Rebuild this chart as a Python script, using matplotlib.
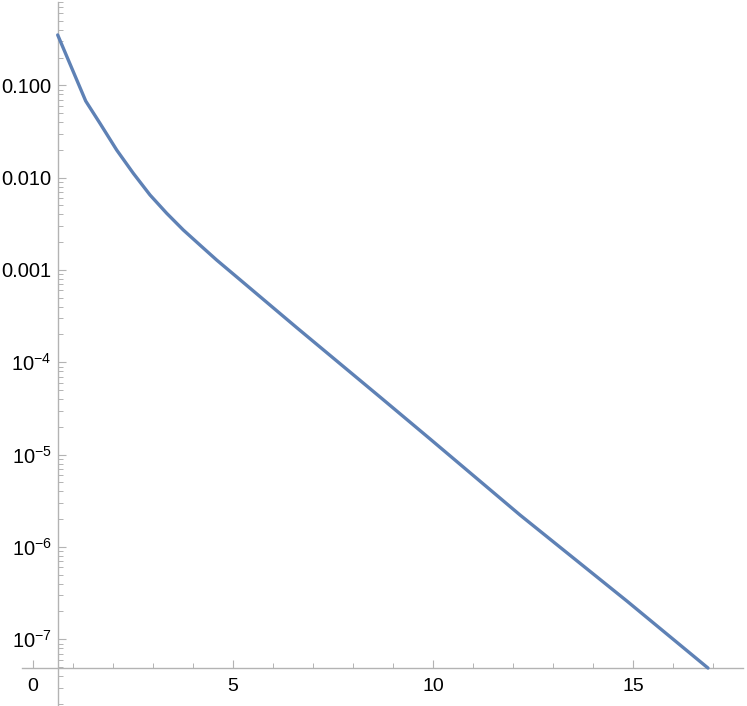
import matplotlib
matplotlib.use("Agg")
import matplotlib.pyplot as plt
import numpy as np
from matplotlib.ticker import FixedLocator, FixedFormatter, LogLocator, NullFormatter

plt.rcParams['font.family'] = ['Liberation Sans', 'DejaVu Sans']
plt.rcParams['mathtext.fontset'] = 'custom'
plt.rcParams['mathtext.rm'] = 'Liberation Sans'
plt.rcParams['mathtext.it'] = 'Liberation Sans:italic'

# data
x_vals = [0.6175, 1.3175, 1.675, 2.0925, 2.5075, 2.925, 3.3425, 3.7575, 4.175, 4.5925,
          5.1325, 6.6, 8.675, 9.925, 12.175, 14.85, 16.875]
y_vals = [0.351, 0.0676, 0.0387, 0.0199, 0.01114, 0.00649, 0.00411, 0.00271, 0.00186,
          0.00128, 8.13e-4, 2.36e-4, 4.21e-5, 1.48e-5, 2.22e-6, 2.59e-7, 4.88e-8]

x_ticks = [0, 5, 10, 15]
x_tick_labels = ["0", "5", "10", "15"]
y_ticks = [1e-1, 1e-2, 1e-3, 1e-4, 1e-5, 1e-6, 1e-7]
y_tick_labels = ["0.100", "0.010", "0.001", r"$10^{-4}$", r"$10^{-5}$", r"$10^{-6}$", r"$10^{-7}$"]

axis_x0 = 0.625      # where the vertical axis crosses
axis_y0 = 4.85e-8    # where the horizontal axis crosses

fig = plt.figure(figsize=(7.47, 7.06), dpi=100)
ax = fig.add_axes([0, 0, 1, 1])
ax.set_yscale('log')
ax.plot(x_vals, y_vals, color='#5E81B5', lw=2.4, solid_capstyle='round', solid_joinstyle='round', zorder=3)

ax.set_xlim(-0.825, 17.85)
ax.set_ylim(10**-7.7226, 10**-0.0761)

axcol = '#b3b3b3'
for s in ['top', 'right']:
    ax.spines[s].set_visible(False)
ax.spines['left'].set_position(('data', axis_x0))
ax.spines['bottom'].set_position(('data', axis_y0))
ax.spines['left'].set_color(axcol)
ax.spines['bottom'].set_color(axcol)
ax.spines['left'].set_linewidth(1.0)
ax.spines['bottom'].set_linewidth(1.0)
ax.spines['bottom'].set_bounds(-0.275, 17.75)
ax.spines['left'].set_bounds(10**-7.7226, 10**-0.098)

ax.xaxis.set_major_locator(FixedLocator(x_ticks))
ax.xaxis.set_major_formatter(FixedFormatter(x_tick_labels))
ax.xaxis.set_minor_locator(FixedLocator([v for v in range(1, 18) if v % 5 != 0]))
ax.yaxis.set_major_locator(FixedLocator(y_ticks))
ax.yaxis.set_major_formatter(FixedFormatter(y_tick_labels))
ax.yaxis.set_minor_locator(LogLocator(base=10, subs=np.arange(2, 10)))
ax.yaxis.set_minor_formatter(NullFormatter())

ax.tick_params(axis='x', which='major', direction='in', length=6, width=0.8, color=axcol,
               labelsize=14, pad=7, labelcolor='black')
ax.tick_params(axis='x', which='minor', direction='in', length=3.5, width=0.7, color=axcol)
ax.tick_params(axis='y', which='major', direction='in', length=6, width=0.8, color=axcol,
               labelsize=14.5, pad=4.5, labelcolor='black')
ax.tick_params(axis='y', which='minor', direction='in', length=3.5, width=0.7, color=axcol)

ax.patch.set_visible(False)
fig.savefig('out.png', dpi=100, facecolor='white')
